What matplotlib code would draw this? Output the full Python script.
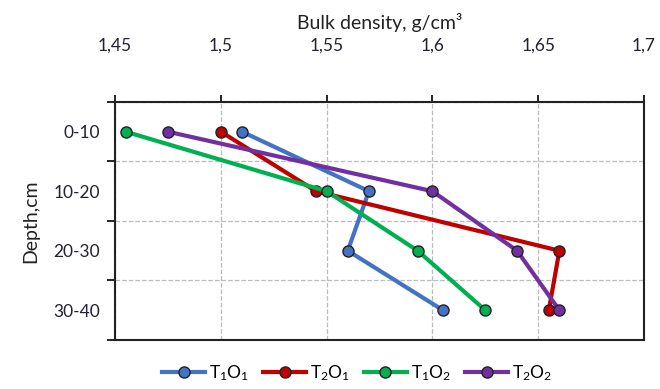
import numpy as np
import matplotlib
matplotlib.use("Agg")
import matplotlib.pyplot as plt
from matplotlib.ticker import FixedLocator, NullFormatter

plt.rcParams['font.family'] = ['Lato', 'DejaVu Sans']

# dane
depths = ['0-10', '10-20', '20-30', '30-40']
t1o1 = [1.51, 1.57, 1.56, 1.605]
t2o1 = [1.50, 1.545, 1.66, 1.655]
t1o2 = [1.455, 1.55, 1.593, 1.625]
t2o2 = [1.475, 1.60, 1.64, 1.66]
x_ticks = [1.45, 1.5, 1.55, 1.6, 1.65, 1.7]
x_labels = ['1,45', '1,5', '1,55', '1,6', '1,65', '1,7']

series = [
    (t1o1, '#4472C4', r'$\mathregular{T_1O_1}$'),
    (t2o1, '#C00000', r'$\mathregular{T_2O_1}$'),
    (t1o2, '#00B050', r'$\mathregular{T_1O_2}$'),
    (t2o2, '#7030A0', r'$\mathregular{T_2O_2}$'),
]

fig = plt.figure(figsize=(6.6, 3.89), dpi=100)
ax = fig.add_axes([0.1742, 0.126, 0.8016, 0.612])

ypos = np.arange(len(depths))
for vals, col, lab in series:
    ax.plot(vals, ypos, color=col, lw=3, marker='o', ms=8,
            markerfacecolor=col, markeredgecolor='#222222', markeredgewidth=1,
            label=lab)

ax.set_xlim(1.45, 1.7)
ax.set_ylim(3.5, -0.5)

# os X na gorze
ax.xaxis.tick_top()
ax.xaxis.set_label_position('top')
ax.set_xticks(x_ticks)
ax.set_xticklabels(x_labels, fontsize=12.5, color='#222233')
ax.tick_params(axis='x', direction='out', length=5, width=1.2, pad=30)
ax.set_xlabel('Bulk density, g/cm³', fontsize=14, color='#222222', labelpad=6)

# os Y - kategorie
ax.yaxis.set_major_locator(FixedLocator([-0.5, 0.5, 1.5, 2.5, 3.5]))
ax.yaxis.set_major_formatter(NullFormatter())
ax.yaxis.set_minor_locator(FixedLocator(ypos))
ax.set_yticklabels(depths, minor=True, fontsize=12.5, color='#222233')
ax.tick_params(axis='y', which='major', direction='out', length=6, width=1.2)
ax.tick_params(axis='y', which='minor', length=0, pad=11)
ax.set_ylabel('Depth,cm', fontsize=14, color='#222222', labelpad=10)

ax.grid(True, which='major', linestyle='--', color='#BBBBBB', lw=0.9)
for s in ax.spines.values():
    s.set_linewidth(1.5)
    s.set_color('#222222')

fig.legend(loc='center', bbox_to_anchor=(0.541, 0.041), ncol=4, frameon=False,
           fontsize=12.5, handlelength=2.5, columnspacing=0.8, handletextpad=0.2)

fig.savefig('out.png', dpi=100)
